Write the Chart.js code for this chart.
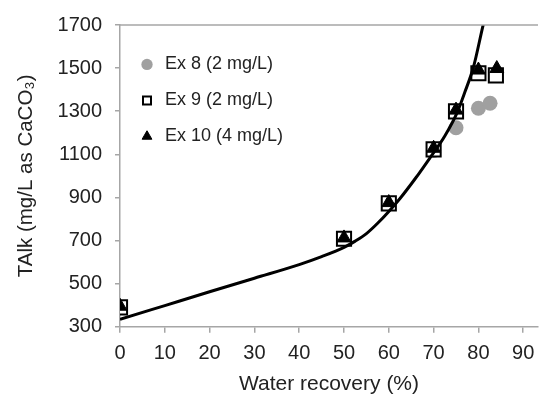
<!DOCTYPE html>
<html lang="en">
<head>
<meta charset="UTF-8">
<title>TAlk vs water recovery</title>
<style>
  html,body{margin:0;padding:0;background:#fff;}
  #chart-container{width:550px;height:397px;}
</style>
</head>
<body>
<div id="chart-container">
  <canvas id="talk-chart" width="550" height="397"></canvas>
</div>
<script src="https://cdn.jsdelivr.net/npm/chart.js"></script>
<script>
const recovery8 = [0, 50, 60, 70, 75, 80, 82.6]
const talk8 = [390, 708, 870, 1118, 1223, 1314, 1337]
const recovery9 = [0, 50, 60, 70, 75, 80, 83.9]
const talk9 = [390, 708, 872, 1123, 1299, 1476, 1466]
const recovery10 = [0, 50, 60, 70, 75, 80, 84.1]
const talk10 = [395, 712, 876, 1128, 1305, 1491, 1498]

// model curve
const curveX = [0, 10, 20, 30, 40, 45, 50, 52.5, 55, 57.5, 60, 62.5, 66, 69, 72.5, 75.2, 77, 78.9, 81, 81.2]
const curveY = [334, 398, 462, 525, 588, 625, 668, 697, 732, 780, 835, 895, 990, 1078, 1185, 1291, 1390, 1505, 1695, 1712]

const xTicks = [0, 10, 20, 30, 40, 50, 60, 70, 80, 90]
const yTicks = [300, 500, 700, 900, 1100, 1300, 1500, 1700]

const pts = (xs, ys) => xs.map((x, i) => ({x: x, y: ys[i]}))
const font = 'Liberation Sans, Arial, sans-serif'
const axisGray = '#a6a6a6'

const topBorder = {
  id: 'topBorder',
  afterDraw(chart) {
    const a = chart.chartArea, c = chart.ctx
    c.save()
    c.strokeStyle = axisGray
    c.lineWidth = 1.5
    c.beginPath()
    c.moveTo(a.left, a.top)
    c.lineTo(a.right, a.top)
    c.stroke()
    c.restore()
  }
}

new Chart(document.getElementById('talk-chart'), {
  type: 'scatter',
  data: {
    datasets: [
      {
        type: 'line', label: 'model', data: pts(curveX, curveY),
        borderColor: '#000', borderWidth: 3, pointRadius: 0,
        cubicInterpolationMode: 'monotone', fill: false
      },
      {
        label: 'Ex 10 (4 mg/L)', data: pts(recovery10, talk10),
        pointStyle: 'triangle', pointRadius: 8, pointHoverRadius: 8,
        backgroundColor: '#000', borderColor: '#000', borderWidth: 1
      },
      {
        label: 'Ex 9 (2 mg/L)', data: pts(recovery9, talk9),
        pointStyle: 'rect', pointRadius: 10, pointHoverRadius: 10,
        backgroundColor: '#fff', borderColor: '#000', borderWidth: 2
      },
      {
        label: 'Ex 8 (2 mg/L)', data: pts(recovery8, talk8),
        pointStyle: 'circle', pointRadius: 7.5, pointHoverRadius: 7.5,
        backgroundColor: '#a0a0a0', borderColor: '#a0a0a0', borderWidth: 0
      }
    ]
  },
  options: {
    responsive: false,
    animation: false,
    layout: {padding: {left: 0, top: 21, right: 8, bottom: 0}},
    plugins: {
      tooltip: {enabled: false},
      legend: {
        position: 'chartArea',
        align: 'start',
        reverse: true,
        title: {display: true, text: ' ', padding: {top: 0, bottom: 23}, font: {size: 12}},
        labels: {
          filter: item => item.text !== 'model',
          usePointStyle: true,
          boxHeight: 8,
          padding: 18,
          color: '#222',
          font: {family: font, size: 18}
        }
      }
    },
    scales: {
      x: {
        type: 'linear', min: 0, max: 93.3,
        afterBuildTicks: s => { s.ticks = xTicks.map(v => ({value: v})) },
        afterFit: s => { s.height = 70.3 },
        grid: {drawOnChartArea: false, drawTicks: true, tickLength: 6, color: axisGray, lineWidth: 1.5},
        border: {color: axisGray, width: 1.5},
        ticks: {color: '#222', padding: 9, font: {family: font, size: 20}, callback: v => String(v)},
        title: {display: true, text: 'Water recovery (%)', color: '#222', padding: 0, font: {family: font, size: 21}}
      },
      y: {
        type: 'linear', min: 300, max: 1700,
        afterBuildTicks: s => { s.ticks = yTicks.map(v => ({value: v})) },
        afterFit: s => { s.width = 120 },
        grid: {drawOnChartArea: false, drawTicks: true, tickLength: 5, color: axisGray, lineWidth: 1.5},
        border: {color: axisGray, width: 1.5},
        ticks: {color: '#222', padding: 13, font: {family: font, size: 20}, callback: v => String(v)},
        title: {display: true, text: 'TAlk (mg/L as CaCO\u2083)', color: '#222', padding: {top: 14, bottom: 0}, font: {family: font, size: 20.5}}
      }
    }
  },
  plugins: [topBorder]
})
</script>
</body>
</html>
